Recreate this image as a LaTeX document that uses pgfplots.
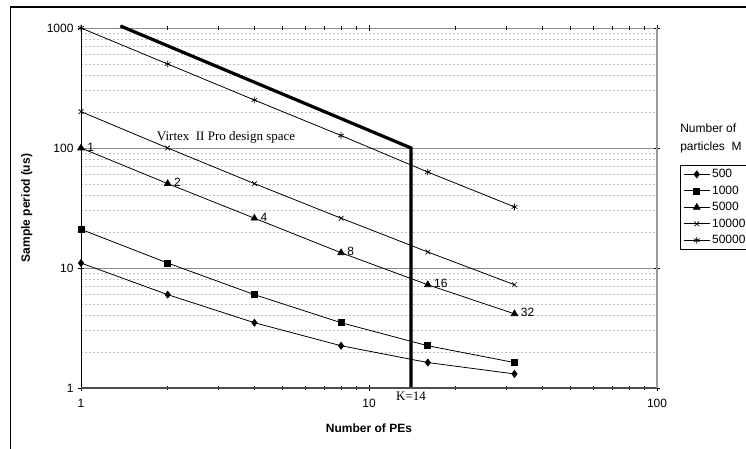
\documentclass[border=0pt]{standalone}
\usepackage{fontspec}
\setmainfont{Liberation Sans}
\newfontfamily\timesfont{Liberation Serif}
\usepackage{pgfplots}
\pgfplotsset{compat=1.18}
\newcommand\f{\fontsize{12}{14}\selectfont}
\begin{document}
\begin{tikzpicture}
\path[use as bounding box, clip] (0,0) rectangle (746pt,448pt);
\fill[white] (0,0) rectangle (746pt,448pt);
\draw[black, line width=1.2pt] (10.5pt,-5pt) -- (10.5pt,441pt) -- (760pt,441pt);
\begin{axis}[
 at={(81pt,60pt)}, anchor=south west, scale only axis, width=576pt, height=360pt,
 xmode=log, ymode=log, xmin=1, xmax=100, ymin=1, ymax=1000,
 clip=false,
 log ticks with fixed point, /pgf/number format/1000 sep={}, /pgf/number format/assume math mode=true,
 xtick={1,10,100}, ytick={1,10,100,1000},
 axis line style={draw=none},
 ymajorgrids, yminorgrids,
 major grid style={draw=gray!90, line width=0.8pt},
 minor grid style={draw=gray!50, dash pattern=on 2pt off 2pt, line width=0.6pt},
 tick align=center, major tick length=6pt, minor tick length=5pt,
 tick style={black, line width=0.6pt},
 minor y tick style={draw=none},
 ticklabel style={font=\f},
 xticklabel style={yshift=-5pt},
 yticklabel style={xshift=-1pt},
 xlabel={Number of PEs}, ylabel={Sample period (us)},
 label style={font=\f\bfseries},
 xlabel style={at={(rel axis cs:0.5,-0.111)}, anchor=center},
 ylabel style={at={(rel axis cs:-0.094,0.5)}, anchor=center},
 legend style={at={(rel axis cs:1.04,0.619)}, anchor=north west, draw=black, line width=0.6pt, font=\f, row sep=2.6pt, inner xsep=3pt, inner ysep=2pt, legend cell align=left},
 legend image code/.code={\draw[mark repeat=2, mark phase=2, #1] plot coordinates {(0pt,0pt) (13pt,0pt) (26pt,0pt)};},
 every axis plot/.append style={black, line width=0.8pt, mark options={solid, fill=black, line width=0.7pt}},
]
\addplot[mark=diamond*, mark size=3.5pt] coordinates {(1,11) (2,6) (4,3.5) (8,2.25) (16,1.63) (32,1.31)};
\addlegendentry{500}
\addplot[mark=square*, mark size=3pt] coordinates {(1,21) (2,11) (4,6) (8,3.5) (16,2.25) (32,1.63)};
\addlegendentry{1000}
\addplot[mark=triangle*, mark size=3.8pt, nodes near coords, point meta=explicit symbolic,
  nodes near coords style={anchor=west, font=\f, inner sep=1pt, xshift=5pt, yshift=1pt, black}] table[meta=lab] {
x y lab
1 100 1
2 50.5 2
4 26 4
8 13.4 8
16 7.25 16
32 4.15 32
};
\addlegendentry{5000}
\addplot[mark=x, mark size=3.3pt] coordinates {(1,201) (2,100) (4,50.5) (8,26) (16,13.6) (32,7.25)};
\addlegendentry{10000}
\addplot[mark=asterisk, mark size=3.3pt] coordinates {(1,1000) (2,501) (4,251) (8,127) (16,63) (32,32.3)};
\addlegendentry{50000\hspace*{14pt}}
\addplot[forget plot, line width=3.2pt, mark=none] coordinates {(1.37,1040) (14,100) (14,1)};
\draw[black, line width=0.8pt] (rel axis cs:0,0) -- (rel axis cs:0,1);
\draw[gray!60!black, line width=1.6pt] (rel axis cs:0,0) -- (rel axis cs:1,0);
\draw[gray!80, line width=1.2pt] (rel axis cs:1,0) -- (rel axis cs:1,1);
\node[font=\timesfont\fontsize{13}{15}\selectfont] at (axis cs:3.19,123) {Virtex\ \ II Pro design space};
\node[font=\timesfont\fontsize{13}{15}\selectfont, anchor=north, inner sep=0pt, yshift=-4pt] at (axis cs:14,1) {K=14};
\node[font=\f, anchor=base west, inner sep=0pt] at (rel axis cs:1.04,0.711) {Number of};
\node[font=\f, anchor=base west, inner sep=0pt] at (rel axis cs:1.04,0.661) {particles\ \ M};
\end{axis}
\end{tikzpicture}
\end{document}
